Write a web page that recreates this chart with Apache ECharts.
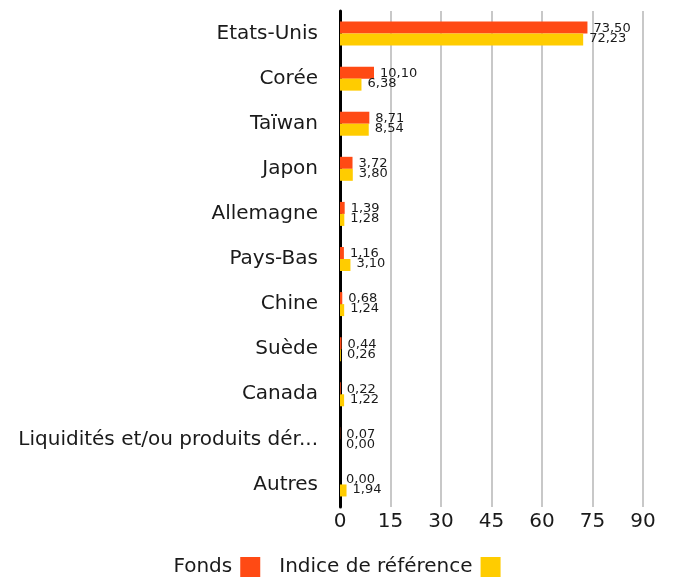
<!DOCTYPE html>
<html>
<head>
<meta charset="utf-8">
<script src="https://cdn.jsdelivr.net/npm/echarts@6/dist/echarts.min.js"></script>
<style>
  html, body { margin: 0; padding: 0; background: #fff; }
  #chart { width: 674px; height: 583px; }
</style>
</head>
<body>
<div id="chart"></div>
<script>
// données
const categories = ['Etats-Unis', 'Corée', 'Taïwan', 'Japon', 'Allemagne', 'Pays-Bas', 'Chine', 'Suède', 'Canada', 'Liquidités et/ou produits dér...', 'Autres']
const fonds = [73.50, 10.10, 8.71, 3.72, 1.39, 1.16, 0.68, 0.44, 0.22, 0.07, 0.00]
const indice = [72.23, 6.38, 8.54, 3.80, 1.28, 3.10, 1.24, 0.26, 1.22, 0.00, 1.94]
const xTicks = [0, 15, 30, 45, 60, 75, 90]

const font = '"DejaVu Sans", sans-serif'
const textColor = '#1a1a1a'
const fmt = p => p.value.toFixed(2).replace('.', ',')

const chart = echarts.init(document.getElementById('chart'))

const option = {
  animation: false,
  textStyle: { fontFamily: font },
  legend: {
    top: 552,
    left: 'center',
    align: 'right',
    itemWidth: 20,
    itemHeight: 20,
    itemGap: 19,
    icon: 'rect',
    textStyle: { fontSize: 20, color: textColor, fontFamily: font, padding: [4, 3, 0, 0] },
    data: ['Fonds', 'Indice de référence']
  },
  grid: {
    left: 340,
    right: 31,
    top: 11,
    bottom: 76
  },
  xAxis: {
    type: 'value',
    min: xTicks[0],
    max: xTicks[xTicks.length - 1],
    interval: 15,
    axisLine: { show: false },
    axisTick: { show: false },
    axisLabel: { fontSize: 20, color: textColor, margin: 5 },
    splitLine: { lineStyle: { color: '#c8c8c8', width: 2 } }
  },
  yAxis: {
    type: 'category',
    inverse: true,
    data: categories,
    axisLine: { show: true, lineStyle: { color: '#000', width: 3 } },
    axisTick: { show: false },
    axisLabel: { fontSize: 20, color: textColor, margin: 22 }
  },
  series: [
    {
      name: 'Fonds',
      type: 'bar',
      data: fonds,
      barWidth: 12,
      barGap: '0%',
      itemStyle: { color: '#FF4A14' },
      label: {
        show: true,
        position: 'right',
        distance: 6,
        offset: [0, 1],
        fontSize: 13,
        color: textColor,
        formatter: fmt
      }
    },
    {
      name: 'Indice de référence',
      type: 'bar',
      data: indice,
      barWidth: 12,
      itemStyle: { color: '#FFCC00' },
      label: {
        show: true,
        position: 'right',
        distance: 6,
        offset: [0, -1],
        fontSize: 13,
        color: textColor,
        formatter: fmt
      }
    }
  ]
}

chart.setOption(option)
</script>
</body>
</html>
